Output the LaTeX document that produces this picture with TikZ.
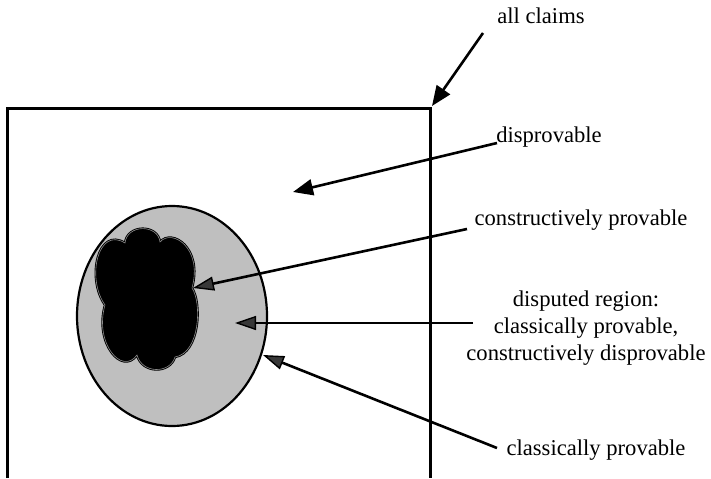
\documentclass[tikz,border=0pt]{standalone}
\usepackage{fontspec}
\setmainfont{Liberation Serif}
\usetikzlibrary{arrows.meta}
\tikzset{
  lbl/.style={font=\fontsize{11.3}{13.3}\selectfont, inner sep=0pt, anchor=base},
  outerarrow/.style={line width=1.3pt, -{Triangle[length=10pt,width=8pt]}},
  innerarrow/.style={line width=1.3pt, -{Triangle[length=10.5pt,width=7pt,fill=black!78,line width=0.7pt]}},
  frame/.style={line width=1.5pt},
  region/.style={draw=black, line width=1.1pt, fill=black!25},
}
\begin{document}
\begin{tikzpicture}[x=0.5pt,y=0.5pt]
\useasboundingbox (0,0) rectangle (711,478);
% frame of all claims
\draw[frame] (7,0) -- (7,370) -- (430,370) -- (430,0);
% disputed / classically provable region
\draw[region] (172,162) ellipse [x radius=95, y radius=110];
% constructively provable blob
\def\blobpath{(105,173) .. controls (86,200) and (98,252) .. (125,235)
  .. controls (127,254) and (158,254) .. (160,236)
  .. controls (172,250) and (203,230) .. (192,190)
  .. controls (202,175) and (200,125) .. (175,121)
  .. controls (170,104) and (142,104) .. (137,123)
  .. controls (122,102) and (94,135) .. cycle}
\fill[black] \blobpath;
\draw[black, line width=1.2pt] \blobpath;
\draw[black!45, line width=0.3pt] \blobpath;
% labels
\node[lbl] (all) at (541,455) {all claims};
\node[lbl] (dis) at (549,336) {disprovable};
\node[lbl] (cp) at (581,253) {constructively provable};
\node[lbl, anchor=center, align=center] (dr) at (586,150) {disputed region:\\classically provable,\\constructively disprovable};
\node[lbl] (clp) at (596,23) {classically provable};
% arrow ends
\coordinate (allT) at (483,445);
\coordinate (allH) at (432,372);
\coordinate (disT) at (497,335);
\coordinate (disH) at (293,286);
\coordinate (cpT) at (467,249);
\coordinate (cpH) at (193,190);
\coordinate (drT) at (473,155);
\coordinate (drH) at (235,155);
\coordinate (clpT) at (497,30);
\coordinate (clpH) at (263,123);
\draw[outerarrow] (allT) -- (allH);
\draw[outerarrow] (disT) -- (disH);
\draw[innerarrow] (cpT) -- (cpH);
\draw[innerarrow] (drT) -- (drH);
\draw[innerarrow] (clpT) -- (clpH);
\end{tikzpicture}
\end{document}
